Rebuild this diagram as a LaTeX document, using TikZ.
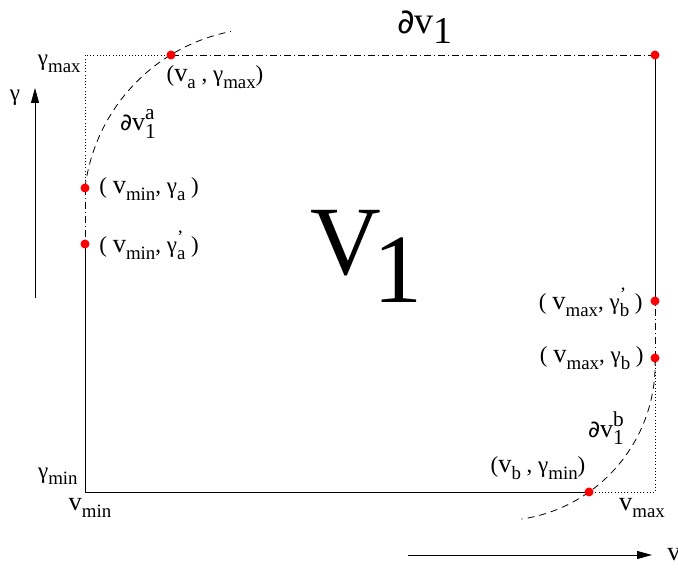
\documentclass[tikz,border=0pt]{standalone}
\usepackage{fontspec}
\setmainfont{Liberation Serif}
\newfontfamily\symfont{DejaVu Sans}
\usetikzlibrary{arrows.meta}
% subscripts and stacked sub/superscripts, sized relative to the label font
\newcommand{\sbs}[1]{\raisebox{-0.28em}{\fontsize{0.82\dimexpr\fontdimen6\font\relax}{10}\selectfont #1}}
\newcommand{\sbsp}[2]{\makebox[0pt][l]{\raisebox{0.42em}{\fontsize{0.82\dimexpr\fontdimen6\font\relax}{10}\selectfont #2}}\sbs{#1}}
\newcommand{\vv}{\scalebox{1.15}{v}}
\newcommand{\prt}{{\symfont\scalebox{0.9}{∂}}}
\tikzset{
  reddot/.style={circle,fill=red,inner sep=0pt,minimum size=9pt},
  lbl/.style={font=\fontsize{23}{26}\selectfont,inner sep=1pt},
  bdlbl/.style={font=\fontsize{26}{30}\selectfont,inner sep=1pt},
  dotline/.style={dash pattern=on 0.8pt off 2.4pt},
  dashdotline/.style={dash pattern=on 7pt off 3pt on 1pt off 3pt},
  dashline/.style={dash pattern=on 7pt off 5pt},
}
\begin{document}
\begin{tikzpicture}[x=1pt,y=1pt,line width=0.8pt,line join=round]
				\useasboundingbox (0,0) rectangle (678,570);
				% corners and marked points
				\coordinate (bl) at (85,78);
				\coordinate (tl) at (85,515);
				\coordinate (tr) at (655,515);
				\coordinate (br) at (655,78);
				\coordinate (pa) at (171,515);
				\coordinate (pga) at (85,382);
				\coordinate (pgap) at (85,326);
				\coordinate (pgbp) at (655,269);
				\coordinate (pgb) at (655,212);
				\coordinate (pb) at (589,78);
				% boundary of V1
				\draw (bl)--(pb);
				\draw[dotline] (pb)--(br)--(pgb);
				\draw[dashdotline] (pgb)--(pgbp);
				\draw (pgbp)--(tr);
				\draw[dashdotline] (tr)--(pa);
				\draw[dotline] (pa)--(tl)--(pga);
				\draw[dashdotline] (pga)--(pgap);
				\draw (pgap)--(bl);
				% curved parts
				\draw[dashline] (pga) arc[start angle=173,end angle=101,radius=182];
				\draw[dashline] (pgb) arc[start angle=2.3,end angle=-81.6,radius=156.5];
				% points
				\foreach \p in {pa,tr,pga,pgap,pgbp,pgb,pb}
					\node[reddot] (dot-\p) at (\p) {};
				% axes
				\coordinate (gbot) at (35,272);
				\coordinate (gtop) at (35,482);
				\draw[-{Triangle[length=15pt,width=8pt]}] (gbot)--(gtop);
				\node[lbl] (glbl) at (15,472) {γ};
				\coordinate (vleft) at (408,15);
				\coordinate (vright) at (652,15);
				\draw[-{Triangle[length=15pt,width=8pt]}] (vleft)--(vright);
				\node[lbl,anchor=west] (vlbl) at (666,15) {\vv};
				% labels
				\node[font=\fontsize{38}{40}\selectfont] (dV) at (425,543) {\prt v\raisebox{-10pt}{1}};
				\node[font=\fontsize{98}{100}\selectfont,anchor=base west] (V) at (307,295) {V\kern-8pt\raisebox{-28pt}{1}};
				\node[lbl,anchor=east] (gmax) at (82,506) {γ\sbs{max}};
				\node[lbl,anchor=east] (gmin) at (79,94) {γ\sbs{min}};
				\node[lbl] (vmin) at (90,62) {\vv\sbs{min}};
				\node[lbl] (vmax) at (642,62) {\vv\sbs{max}};
				\node[lbl] (la) at (215,493) {(\vv\sbs{a} , γ\sbs{max})};
				\node[bdlbl] (dVa) at (138,446) {\prt v\sbsp{1}{a}};
				\node[lbl,anchor=west] (lga) at (98,381) {( \vv\sbs{min}, γ\sbs{a} )};
				\node[lbl,anchor=west] (lgap) at (98,325) {( \vv\sbs{min}, γ\sbsp{a}{’} )};
				\node[lbl,anchor=east] (lgbp) at (644,268) {( \vv\sbs{max}, γ\sbsp{b}{’} )};
				\node[lbl,anchor=east] (lgb) at (645,212) {( \vv\sbs{max}, γ\sbs{b} )};
				\node[bdlbl] (dVb) at (606,142) {\prt v\sbsp{1}{b}};
				\node[lbl] (lb) at (538,102) {(\vv\sbs{b} , γ\sbs{min})};
			\end{tikzpicture}
\end{document}
